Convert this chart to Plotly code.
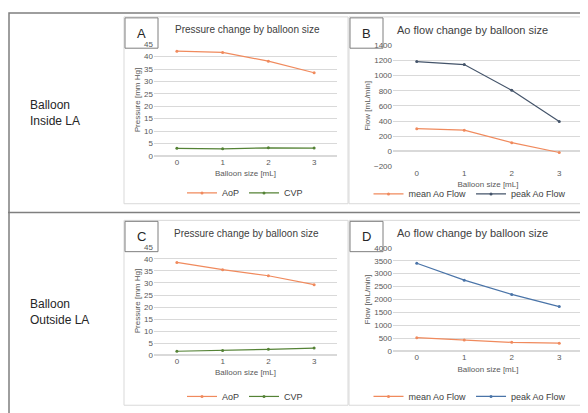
import plotly.graph_objects as go

sizes = [0, 1, 2, 3]
a_aop = [42.2, 41.7, 38.2, 33.5]
a_cvp = [3.0, 2.8, 3.2, 3.1]
b_mean = [300, 280, 115, -15]
b_peak = [1185, 1145, 805, 395]
c_aop = [38.5, 35.5, 33.0, 29.3]
c_cvp = [1.7, 2.0, 2.5, 3.0]
d_mean = [530, 440, 350, 320]
d_peak = [3400, 2750, 2200, 1730]

W, H = 588, 413
ORANGE = '#F08A5D'
GREEN = '#548235'
NAVY = '#44546A'
BLUE = '#4A74A8'
FONT = 'Liberation Sans'


def px(x):
    return x / W


def py(y):
    return 1 - y / H


fig = go.Figure()


def add(xa, ya, leg, y, name, color):
    fig.add_trace(go.Scatter(x=sizes, y=y, name=name, xaxis=xa, yaxis=ya, legend=leg,
                             mode='lines+markers', line=dict(color=color, width=1.2),
                             marker=dict(size=3, color=color)))


add('x', 'y', 'legend', a_aop, 'AoP', ORANGE)
add('x', 'y', 'legend', a_cvp, 'CVP', GREEN)
add('x2', 'y2', 'legend2', b_mean, 'mean Ao Flow', ORANGE)
add('x2', 'y2', 'legend2', b_peak, 'peak Ao Flow', NAVY)
add('x3', 'y3', 'legend3', c_aop, 'AoP', ORANGE)
add('x3', 'y3', 'legend3', c_cvp, 'CVP', GREEN)
add('x4', 'y4', 'legend4', d_mean, 'mean Ao Flow', ORANGE)
add('x4', 'y4', 'legend4', d_peak, 'peak Ao Flow', BLUE)

tick = dict(size=8, color='#595959', family=FONT)
xbase = dict(range=[-0.5, 3.5], tickvals=sizes, showgrid=False, zeroline=False,
             showline=False, tickfont=tick, ticks='',
             title=dict(text='Balloon size [mL]', font=tick, standoff=4))


def ybase(rng, dt, title):
    return dict(range=rng, dtick=dt, showgrid=True, gridcolor='#D9D9D9', gridwidth=0.8,
                zeroline=True, zerolinecolor='#D9D9D9', tickfont=tick, ticks='',
                title=dict(text=title, font=tick, standoff=2))


layout = dict(
    width=W, height=H, margin=dict(l=0, r=0, t=0, b=0),
    paper_bgcolor='white', plot_bgcolor='white', font=dict(family=FONT),
    xaxis=dict(xbase, domain=[px(146), px(329)], anchor='y'),
    yaxis=dict(ybase([0, 45], 5, 'Pressure [mm Hg]'), domain=[py(147), py(33)], anchor='x'),
    xaxis2=dict(xbase, domain=[px(385), px(575)], anchor='y2'),
    yaxis2=dict(ybase([-200, 1400], 200, 'Flow [mL/min]'), domain=[py(158), py(34)], anchor='x2'),
    xaxis3=dict(xbase, domain=[px(146), px(329)], anchor='y3'),
    yaxis3=dict(ybase([0, 45], 5, 'Pressure [mm Hg]'), domain=[py(351), py(240)], anchor='x3'),
    xaxis4=dict(xbase, domain=[px(385), px(575)], anchor='y4'),
    yaxis4=dict(ybase([0, 4000], 500, 'Flow [mL/min]'), domain=[py(347), py(241)], anchor='x4'),
)
legfont = dict(size=9, color='#404040', family=FONT)
for key, x, y in [('legend', 237, 185), ('legend2', 462, 186),
                  ('legend3', 237, 393), ('legend4', 462, 393)]:
    layout[key] = dict(orientation='h', x=px(x), y=py(y), xanchor='center', yanchor='middle',
                       font=legfont, bgcolor='rgba(0,0,0,0)', itemwidth=30, tracegroupgap=0)
fig.update_layout(**layout)

shapes = []


def rect(x0, y0, x1, y1, color='#A6A6A6', w=1):
    shapes.append(dict(type='rect', xref='paper', yref='paper', x0=px(x0), x1=px(x1),
                       y0=py(y1), y1=py(y0), line=dict(color=color, width=w)))


rect(1, 1, 586, 411, '#7F7F7F', 1.5)
shapes.append(dict(type='line', xref='paper', yref='paper', x0=0, x1=1, y0=py(205), y1=py(205),
                   line=dict(color='#7F7F7F', width=1.5)))
for (x0, y0, x1, y1) in [(116, 5, 340, 196), (341, 5, 583, 196),
                         (116, 213, 340, 402), (341, 213, 583, 402)]:
    rect(x0, y0, x1, y1, '#D9D9D9')
for (x0, y0) in [(117, 6), (342, 6), (117, 214), (342, 214)]:
    rect(x0, y0, x0 + 33, y0 + 31, '#7F7F7F')
fig.update_layout(shapes=shapes)

ann = []


def text(x, y, t, size, color='#404040', anchor='center'):
    ann.append(dict(xref='paper', yref='paper', x=px(x), y=py(y), text=t, showarrow=False,
                    xanchor=anchor, yanchor='middle', align=anchor,
                    font=dict(size=size, color=color, family=FONT)))


for (x, y, l) in [(133, 22, 'A'), (358, 22, 'B'), (133, 230, 'C'), (358, 230, 'D')]:
    text(x, y, l, 13, '#262626')
text(239, 18, 'Pressure change by balloon size', 10)
text(464, 18, 'Ao flow change by balloon size', 11)
text(238, 226, 'Pressure change by balloon size', 10)
text(464, 226, 'Ao flow change by balloon size', 11)
text(20, 103, 'Balloon<br>Inside LA', 12, '#262626', 'left')
text(20, 307, 'Balloon<br>Outside LA', 12, '#262626', 'left')
fig.update_layout(annotations=ann)

fig.write_html("out.html")
